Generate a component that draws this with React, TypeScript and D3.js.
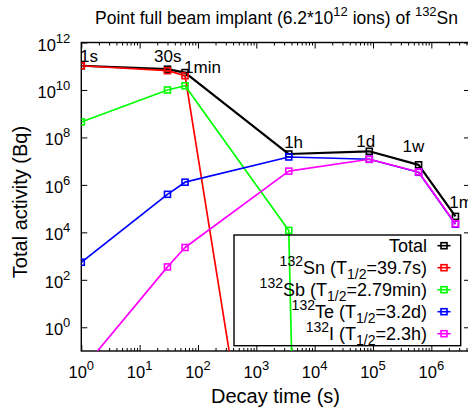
import { useEffect, useRef } from "react";
import * as d3 from "d3";

// decay times in seconds: 1s, 30s, 1min, 1h, 1d, 1w, 1 month
const times = [1, 30, 60, 3600, 86400, 604800, 2592000];

// activities in Bq
const totalActivity = [1.05e11, 7.5e10, 5.4e10, 2.0e7, 2.6e7, 7.0e6, 4.7e4];
const snActivity = [1.05e11, 6.5e10, 4.0e10, 2e-17];
const sbActivity = [4.5e8, 1.0e10, 1.5e10, 1.2e4, 1e-145];
const teActivity = [5.5e2, 4.0e5, 1.3e6, 1.5e7, 1.2e7, 3.4e6, 2.2e4];
const iActivity = [1.5e-2, 3.5e2, 2.3e3, 3.8e6, 1.2e7, 3.5e6, 2.3e4];

const seriesColors = ["#000000", "#ff0000", "#00ff00", "#0000ff", "#ff00ff"];
const legendMass = ["", "132", "132", "132", "132"];
const legendElements = ["Total", "Sn", "Sb", "Te", "I"];
const legendHalfLives = ["", "39.7s", "2.79min", "3.2d", "2.3h"];

// time annotations, placed in data coordinates (left edge, baseline)
const markLabels = ["1s", "30s", "1min", "1h", "1d", "1w", "1m"];
const markLabelTimes = [0.95, 17.7, 57.8, 3000, 51500, 3.2e5, 2.03e6];
const markLabelValues = [1.5e11, 1.5e11, 5.4e10, 3.6e7, 4.0e7, 2.5e7, 1.06e5];

const xMajorTicks = [1, 10, 100, 1e3, 1e4, 1e5, 1e6];
const yMajorTicks = [1, 1e2, 1e4, 1e6, 1e8, 1e10, 1e12];

const FONT = "'Liberation Sans', Arial, Helvetica, sans-serif";

// parts: [text, mode] with mode -1 = superscript, 1 = subscript, 0 = normal
const rich = (sel, parts, size, supSize = 13) => {
  let cur = 0;
  parts.forEach(([s, mode]) => {
    const target = mode === -1 ? -8 : mode === 1 ? 5 : 0;
    sel
      .append("tspan")
      .attr("dy", target - cur)
      .attr("font-size", mode ? supSize : size)
      .text(s);
    cur = target;
  });
};

const DecayChart = () => {
  const svgRef = useRef(null);

  useEffect(() => {
    document.body.style.margin = "0";
    const svg = d3.select(svgRef.current);
    svg.selectAll("*").remove();

    const width = 468;
    const height = 410;
    const left = 81.3;
    const right = 470;
    const top = 42.5;
    const bottom = 351;

    svg.attr("width", width).attr("height", height).style("font-family", FONT);

    const x = d3.scaleLog().domain([1, 4.6e6]).range([left, right]);
    const y = d3.scaleLog().domain([0.1, 1e12]).range([bottom, top]);

    svg
      .append("defs")
      .append("clipPath")
      .attr("id", "plotClip")
      .append("rect")
      .attr("x", left)
      .attr("y", top)
      .attr("width", right - left)
      .attr("height", bottom - top);

    const xMinor = [];
    for (let d = 0; d < 7; d++) {
      for (let k = 2; k <= 9; k++) {
        const v = k * Math.pow(10, d);
        if (v < 4.6e6) xMinor.push(v);
      }
    }

    const styleAxis = (g) => {
      g.select(".domain").remove();
      g.selectAll(".tick line").attr("stroke", "#000").attr("stroke-width", 1);
      g.selectAll(".tick text").remove();
    };

    // ticks, pointing inward on all four sides
    svg
      .append("g")
      .attr("transform", `translate(0,${bottom})`)
      .call(d3.axisBottom(x).tickValues(xMajorTicks).tickSize(-6).tickFormat(() => ""))
      .call(styleAxis);
    svg
      .append("g")
      .attr("transform", `translate(0,${bottom})`)
      .call(d3.axisBottom(x).tickValues(xMinor).tickSize(-3).tickFormat(() => ""))
      .call(styleAxis);
    svg
      .append("g")
      .attr("transform", `translate(0,${top})`)
      .call(d3.axisTop(x).tickValues(xMajorTicks).tickSize(-6).tickFormat(() => ""))
      .call(styleAxis);
    svg
      .append("g")
      .attr("transform", `translate(0,${top})`)
      .call(d3.axisTop(x).tickValues(xMinor).tickSize(-3).tickFormat(() => ""))
      .call(styleAxis);
    svg
      .append("g")
      .attr("transform", `translate(${left},0)`)
      .call(d3.axisLeft(y).tickValues(yMajorTicks).tickSize(-6).tickFormat(() => ""))
      .call(styleAxis);
    svg
      .append("g")
      .attr("transform", `translate(${right},0)`)
      .call(d3.axisRight(y).tickValues(yMajorTicks).tickSize(-6).tickFormat(() => ""))
      .call(styleAxis);

    // tick labels with superscript exponents
    xMajorTicks.forEach((v) => {
      const t = svg
        .append("text")
        .attr("x", x(v))
        .attr("y", bottom + 27)
        .attr("text-anchor", "middle")
        .attr("font-size", 16.5)
        .attr("fill", "#000");
      rich(t, [["10", 0], [String(Math.round(Math.log10(v))), -1]], 16.5);
    });
    yMajorTicks.forEach((v) => {
      const t = svg
        .append("text")
        .attr("x", left - 11)
        .attr("y", y(v) + 8)
        .attr("text-anchor", "end")
        .attr("font-size", 16.5)
        .attr("fill", "#000");
      rich(t, [["10", 0], [String(Math.round(Math.log10(v))), -1]], 16.5);
    });

    // frame
    svg
      .append("rect")
      .attr("x", left)
      .attr("y", top)
      .attr("width", right - left)
      .attr("height", bottom - top)
      .attr("fill", "none")
      .attr("stroke", "#000")
      .attr("stroke-width", 1.4);

    // axis titles
    svg
      .append("text")
      .attr("x", 275.5)
      .attr("y", 403)
      .attr("text-anchor", "middle")
      .attr("font-size", 20)
      .text("Decay time (s)");
    svg
      .append("text")
      .attr("transform", "translate(27,202) rotate(-90)")
      .attr("text-anchor", "middle")
      .attr("font-size", 20)
      .text("Total activity (Bq)");

    // plot title
    const title = svg
      .append("text")
      .attr("x", 276.5)
      .attr("y", 24)
      .attr("text-anchor", "middle")
      .attr("font-size", 17.5)
      .style("white-space", "pre");
    rich(
      title,
      [
        ["Point full beam implant (6.2*10", 0],
        ["12", -1],
        [" ions) of ", 0],
        ["132", -1],
        ["Sn", 0],
      ],
      17.5,
      13
    );

    // data
    const seriesValues = [totalActivity, snActivity, sbActivity, teActivity, iActivity];
    const series = seriesValues.map((vals, i) => ({
      color: seriesColors[i],
      points: vals.map((v, j) => ({ t: times[j], v })),
    }));

    const line = d3
      .line()
      .x((d) => x(d.t))
      .y((d) => y(d.v));

    const plot = svg.append("g").attr("clip-path", "url(#plotClip)");

    series.forEach((s, i) => {
      plot
        .append("path")
        .datum(s.points)
        .attr("fill", "none")
        .attr("stroke", s.color)
        .attr("stroke-width", i === 0 ? 2.2 : 1.7)
        .attr("stroke-linejoin", "round")
        .attr("d", line);
      plot
        .selectAll(null)
        .data(s.points.filter((p) => p.v >= 0.1))
        .enter()
        .append("rect")
        .attr("x", (d) => x(d.t) - 3)
        .attr("y", (d) => y(d.v) - 3)
        .attr("width", 6)
        .attr("height", 6)
        .attr("fill", "none")
        .attr("stroke", s.color)
        .attr("stroke-width", 1.6);
    });

    // time annotations
    markLabels.forEach((txt, i) => {
      svg
        .append("text")
        .attr("x", x(markLabelTimes[i]))
        .attr("y", y(markLabelValues[i]))
        .attr("font-size", 17)
        .attr("fill", "#000")
        .text(txt);
    });

    // legend
    const lg = svg.append("g");
    lg.append("rect")
      .attr("x", 234)
      .attr("y", 235)
      .attr("width", 226.7)
      .attr("height", 110.7)
      .attr("fill", "none")
      .attr("stroke", "#000")
      .attr("stroke-width", 1.4);

    legendElements.forEach((el, i) => {
      const base = 251.7 + i * 22;
      const t = lg
        .append("text")
        .attr("x", 427)
        .attr("y", base)
        .attr("text-anchor", "end")
        .attr("font-size", 18)
        .style("white-space", "pre");
      if (!legendMass[i]) {
        rich(t, [[el, 0]], 18);
      } else {
        rich(
          t,
          [
            [legendMass[i], -1],
            [`${el} (T`, 0],
            ["1/2", 1],
            [`=${legendHalfLives[i]})`, 0],
          ],
          18,
          14
        );
      }
      const cy = base - 6;
      lg.append("line")
        .attr("x1", 437.5)
        .attr("x2", 450.5)
        .attr("y1", cy)
        .attr("y2", cy)
        .attr("stroke", seriesColors[i])
        .attr("stroke-width", 1.6);
      lg.append("rect")
        .attr("x", 441)
        .attr("y", cy - 3)
        .attr("width", 6)
        .attr("height", 6)
        .attr("fill", "none")
        .attr("stroke", seriesColors[i])
        .attr("stroke-width", 1.6);
    });
  }, []);

  return <svg ref={svgRef} style={{ display: "block" }}></svg>;
};

export default function App() {
  return <DecayChart />;
}
